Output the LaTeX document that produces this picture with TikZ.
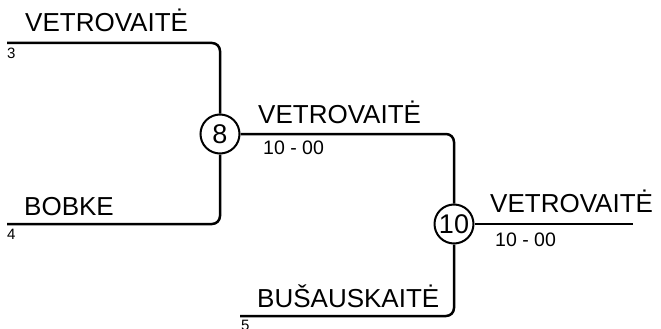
\documentclass[tikz,border=0pt]{standalone}
\usepackage{fontspec}
\setmainfont{Liberation Sans}
\begin{document}
\begin{tikzpicture}[x=1pt,y=-1pt]
\tikzstyle{player name} = [anchor=base west, inner sep=0pt, font=\fontsize{26}{30}\selectfont]
\tikzstyle{seed label} = [anchor=north west, inner sep=0pt, font=\fontsize{15}{17}\selectfont]
\tikzstyle{score label} = [anchor=north west, inner sep=0pt, font=\fontsize{19.5}{22}\selectfont]
\tikzstyle{match vertex} = [draw, circle, line width=2pt, minimum size=39pt, inner sep=0pt, font=\fontsize{27}{30}\selectfont]
\tikzstyle{bracket edge} = [draw, color=black, line width=2.5pt, rounded corners=8pt]
\useasboundingbox (0,0) rectangle (661,329);
\coordinate (c_1) at (7,43);
\coordinate (c_2) at (220,43);
\coordinate (c_3) at (7,224);
\coordinate (c_4) at (220,224);
\coordinate (c_5) at (454,134);
\coordinate (c_6) at (240,316);
\coordinate (c_7) at (454,316);
\coordinate (c_8) at (633,224);
\node[match vertex] (m_8) at (220,134) {8};
\node[match vertex] (m_10) at (454,224) {10};
\path[bracket edge] (c_1) -- (c_2) -- (m_8.north);
\path[bracket edge] (c_3) -- (c_4) -- (m_8.south);
\path[bracket edge] (m_8.east) -- (c_5) -- (m_10.north);
\path[bracket edge] (c_6) -- (c_7) -- (m_10.south);
\path[bracket edge] (m_10.east) -- (c_8);
\node[player name] (p_1) at (25,32) {VETROVAITĖ};
\node[player name] (p_2) at (24,215) {BOBKE};
\node[player name] (p_3) at (258,123) {VETROVAITĖ};
\node[player name] (p_4) at (257,307) {BUŠAUSKAITĖ};
\node[player name] (p_5) at (490,212) {VETROVAITĖ};
\node[seed label] (s_3) at (7,48) {3};
\node[seed label] (s_4) at (7,229) {4};
\node[seed label] (s_5) at (241,320) {5};
\node[score label] (r_8) at (263,141) {10 - 00};
\node[score label] (r_10) at (495,233) {10 - 00};
\end{tikzpicture}
\end{document}
